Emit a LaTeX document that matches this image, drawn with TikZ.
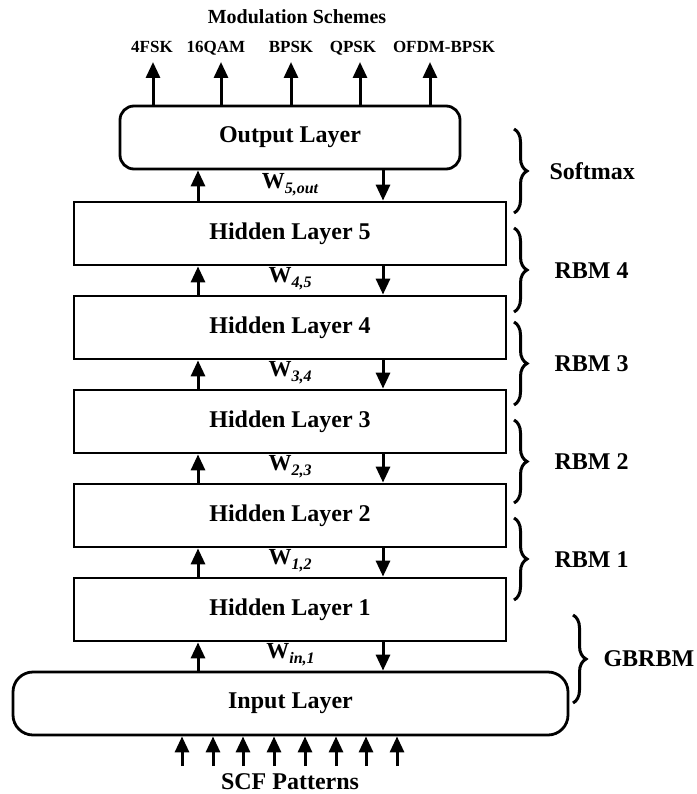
\documentclass[tikz,border=0pt]{standalone}
\usepackage{fontspec}
\setmainfont{Liberation Serif}
\usetikzlibrary{arrows.meta,decorations.pathreplacing}
\begin{document}
\begin{tikzpicture}[x=1pt,y=-1pt,
  every node/.style={font=\bfseries},
  big/.style={font=\fontsize{24}{24}\selectfont\bfseries},
  layerbox/.style={draw,line width=2.8pt,minimum width=432,minimum height=63,inner sep=0pt,big},
  roundbox/.style={draw,line width=2.8pt,rounded corners=14pt,minimum height=63,inner sep=0pt,big},
  arr/.style={line width=3pt,-{Triangle[width=14pt,length=16pt]}},
  wlab/.style={anchor=base,font=\fontsize{23}{23}\selectfont\bfseries},
  toplab/.style={anchor=base,font=\fontsize{17}{17}\selectfont\bfseries},
  sidelab/.style={anchor=west,big},
  brc/.style={decorate,decoration={brace,amplitude=13pt,aspect=0.5},line width=3pt}
]
\useasboundingbox (0,0) rectangle (696,794);

% layers
\node[roundbox,minimum width=340] (out) at (290,137.5) {Output Layer};
\node[layerbox] (h5) at (290,233.5) {Hidden Layer 5};
\node[layerbox] (h4) at (290,327.5) {Hidden Layer 4};
\node[layerbox] (h3) at (290,421.5) {Hidden Layer 3};
\node[layerbox] (h2) at (290,515.5) {Hidden Layer 2};
\node[layerbox] (h1) at (290,609.5) {Hidden Layer 1};
\node[roundbox,minimum width=555,rounded corners=20pt] (in) at (290.5,703.5) {Input Layer};

\coordinate (upx) at (198,0);
\coordinate (dnx) at (383,0);

% inter-layer arrows and weights
\foreach \lo/\hi/\sub in {in/h1/{in,1},h1/h2/{1,2},h2/h3/{2,3},h3/h4/{3,4},h4/h5/{4,5},h5/out/{5,out}}{
  \draw[arr] (\lo.north -| upx) -- (\hi.south -| upx);
  \draw[arr] (\hi.south -| dnx) -- (\lo.north -| dnx);
  \node[wlab] at ([yshift=12pt]\lo.north) {W\raisebox{-5pt}{\fontsize{16}{16}\selectfont\bfseries\itshape \sub}};
}

% outputs
\node[anchor=base,font=\fontsize{20}{20}\selectfont\bfseries] (title) at (297,24) {Modulation Schemes};
\foreach \i/\x/\lx/\t in {1/153/152/4FSK,2/221/216/16QAM,3/291/291/BPSK,4/360/353/QPSK,5/430/444/OFDM-BPSK}{
  \coordinate (t\i) at (\x,62);
  \draw[arr] (out.north -| t\i) -- (t\i);
  \node[toplab] (lab\i) at (\lx,53) {\t};
}

% inputs
\foreach \i/\x in {1/182,2/213,3/243,4/274,5/305,6/336,7/366,8/397}{
  \coordinate (b\i) at (\x,766);
  \draw[arr] (b\i) -- (in.south -| b\i);
}
\node[anchor=base,big] (scf) at (290,789) {SCF Patterns};

% braces
\draw[brc] (514,129) -- (514,213);
\draw[brc] (514,228) -- (514,312);
\draw[brc] (514,322) -- (514,405);
\draw[brc] (514,420) -- (514,503);
\draw[brc] (514,518) -- (514,600);
\draw[brc] (573,615) -- (573,703);

\node[sidelab] (sm) at (546,171) {Softmax};
\node[sidelab] (r4) at (551,271) {RBM 4};
\node[sidelab] (r3) at (551,364) {RBM 3};
\node[sidelab] (r2) at (551,462) {RBM 2};
\node[sidelab] (r1) at (551,560) {RBM 1};
\node[sidelab] (gb) at (600,659) {GBRBM};
\end{tikzpicture}
\end{document}
